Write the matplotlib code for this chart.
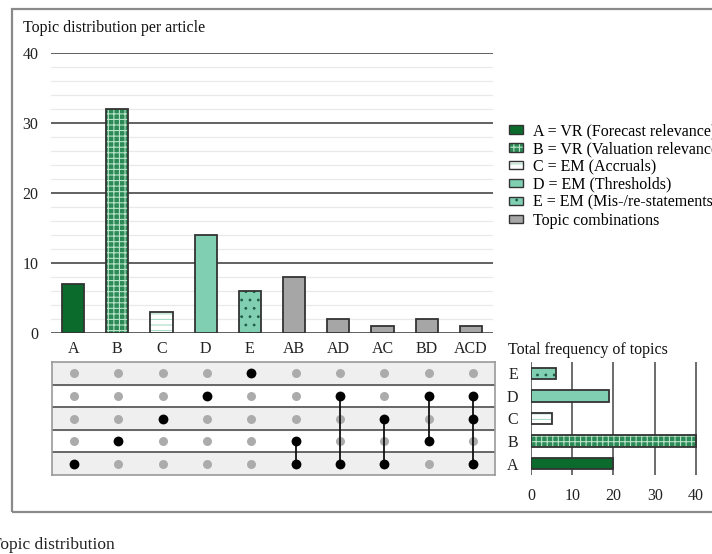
import matplotlib
matplotlib.use("Agg")
import matplotlib.pyplot as plt
import matplotlib.ticker as ticker
from matplotlib.patches import Patch, Rectangle

plt.rcParams['font.family'] = ['Liberation Serif', 'DejaVu Serif']
plt.rcParams['hatch.linewidth'] = 0.8

# ---- data ----
combos = ['A', 'B', 'C', 'D', 'E', 'AB', 'AD', 'AC', 'BD', 'ACD']
combo_counts = [7, 32, 3, 14, 6, 8, 2, 1, 2, 1]

topics = ['A', 'B', 'C', 'D', 'E']
topic_totals = [20, 40, 5, 19, 6]
topic_names = ['A = VR (Forecast relevance)', 'B = VR (Valuation relevance)',
               'C = EM (Accruals)', 'D = EM (Thresholds)',
               'E = EM (Mis-/re-statements)']
combo_name = 'Topic combinations'

# fill colour, hatch, hatch colour per topic
STYLE = {
    'A': ('#0b6b2c', None, '#0b6b2c'),
    'B': ('#2b8a56', '+++', '#b9e3c8'),
    'C': ('#ffffff', '---', '#a8dcc4'),
    'D': ('#80cfb2', None, '#80cfb2'),
    'E': ('#80cfb2', '..', '#1f5e46'),
}
COMBO_STYLE = ('#a6a6a6', None, '#a6a6a6')
EDGE = '#333333'

W, H = 712, 554
fig = plt.figure(figsize=(W / 100, H / 100), dpi=100)


def fx(px):
    return px / W


def fy(py):
    return 1 - py / H


def styled_bars(ax, pos, vals, styles, horizontal=False, size=0.5):
    for p, v, (fc, hatch, hc) in zip(pos, vals, styles):
        if horizontal:
            ax.barh(p, v, height=size, color=fc, edgecolor=hc, linewidth=0,
                    hatch=hatch, zorder=3)
            ax.barh(p, v, height=size, fill=False, edgecolor=EDGE,
                    linewidth=1.3, zorder=4)
        else:
            ax.bar(p, v, width=size, color=fc, edgecolor=hc, linewidth=0,
                   hatch=hatch, zorder=3)
            ax.bar(p, v, width=size, fill=False, edgecolor=EDGE,
                   linewidth=1.3, zorder=4)


# ---- outer frame ----
fig.patches.append(Rectangle((fx(12), fy(512)), 1.2, fy(9) - fy(512),
                             transform=fig.transFigure, fill=False,
                             edgecolor='#8a8a8a', linewidth=1.6))

# ---- bars per article ----
ax = fig.add_axes([fx(51), fy(333), fx(493) - fx(51), fy(53) - fy(333)])
xs = list(range(len(combos)))
bar_styles = [STYLE[c] if len(c) == 1 else COMBO_STYLE for c in combos]
styled_bars(ax, xs, combo_counts, bar_styles)
ax.set_xlim(-0.5, len(combos) - 0.5)
ax.set_ylim(0, 40)
ax.yaxis.set_major_locator(ticker.MultipleLocator(10))
ax.yaxis.set_minor_locator(ticker.MultipleLocator(2))
ax.grid(axis='y', which='major', color='#555555', linewidth=1.3, zorder=1)
ax.grid(axis='y', which='minor', color='#e9e9e9', linewidth=0.9, zorder=0)
ax.set_xticks(xs)
ax.set_xticklabels(combos)
ax.tick_params(axis='both', which='both', length=0, labelsize=11.5,
               colors='#222222')
ax.tick_params(axis='y', pad=9)
ax.tick_params(axis='x', pad=6)
for s in ax.spines.values():
    s.set_visible(False)
ax.set_axisbelow(True)

fig.text(fx(23), fy(28), 'Topic distribution per article', fontsize=11.5,
         va='center', ha='left', color='#111111')

# ---- membership matrix ----
mx = fig.add_axes([fx(52), fy(475), fx(495) - fx(52), fy(362) - fy(475)])
mx.set_xlim(-0.5, len(combos) - 0.5)
mx.set_ylim(-0.5, len(topics) - 0.5)
for r in range(len(topics)):
    if r % 2 == 0:
        mx.axhspan(r - 0.5, r + 0.5, color='#efefef', zorder=0)
for r in range(1, len(topics)):
    mx.axhline(r - 0.5, color='#666666', linewidth=1.4, zorder=1)
for i, c in enumerate(combos):
    rows = [topics.index(t) for t in c]
    off = [r for r in range(len(topics)) if r not in rows]
    mx.scatter([i] * len(off), off, s=42, color='#ababab', zorder=2,
               linewidths=0)
    if len(rows) > 1:
        mx.plot([i, i], [min(rows), max(rows)], color='#111111',
                linewidth=1.3, zorder=3)
    mx.scatter([i] * len(rows), rows, s=50, color='#000000', zorder=4,
               linewidths=0)
mx.set_xticks([])
mx.set_yticks([])
for s in mx.spines.values():
    s.set_color('#999999')
    s.set_linewidth(1.2)

# ---- total frequency of topics ----
hx = fig.add_axes([fx(531), fy(475), fx(698) - fx(531), fy(362) - fy(475)])
ys = list(range(len(topics)))
styled_bars(hx, ys, topic_totals, [STYLE[t] for t in topics],
            horizontal=True, size=0.5)
hx.set_ylim(-0.5, len(topics) - 0.5)
hx.set_xlim(0, 40.5)
hx.set_xticks([0, 10, 20, 30, 40])
hx.set_yticks(ys)
hx.set_yticklabels(topics)
hx.grid(axis='x', color='#444444', linewidth=1.1, zorder=1)
hx.set_axisbelow(True)
hx.tick_params(axis='both', length=0, labelsize=11.5, colors='#222222')
hx.tick_params(axis='x', pad=9)
hx.tick_params(axis='y', pad=9)
for s in hx.spines.values():
    s.set_visible(False)

fig.text(fx(508), fy(350), 'Total frequency of topics', fontsize=11.5,
         va='center', ha='left', color='#111111')

# ---- legend ----
handles = []
for t in topics:
    fc, hatch, hc = STYLE[t]
    handles.append((Patch(facecolor=fc, edgecolor=hc, hatch=hatch, linewidth=0),
                    Patch(fill=False, edgecolor=EDGE, linewidth=1.0)))
fc, hatch, hc = COMBO_STYLE
handles.append((Patch(facecolor=fc, edgecolor=hc, linewidth=0),
                Patch(fill=False, edgecolor=EDGE, linewidth=1.0)))
fig.legend(handles, topic_names + [combo_name], loc='upper left',
           bbox_to_anchor=(fx(509), fy(123)), frameon=False, fontsize=11.5,
           handlelength=0.9, handleheight=0.45, handletextpad=0.6,
           labelspacing=0.12, borderpad=0, borderaxespad=0)

# caption below the frame
fig.text(fx(-9), fy(545), 'Topic distribution', fontsize=12.5,
         va='center', ha='left', color='#222222')

fig.savefig('out.png', dpi=100)
